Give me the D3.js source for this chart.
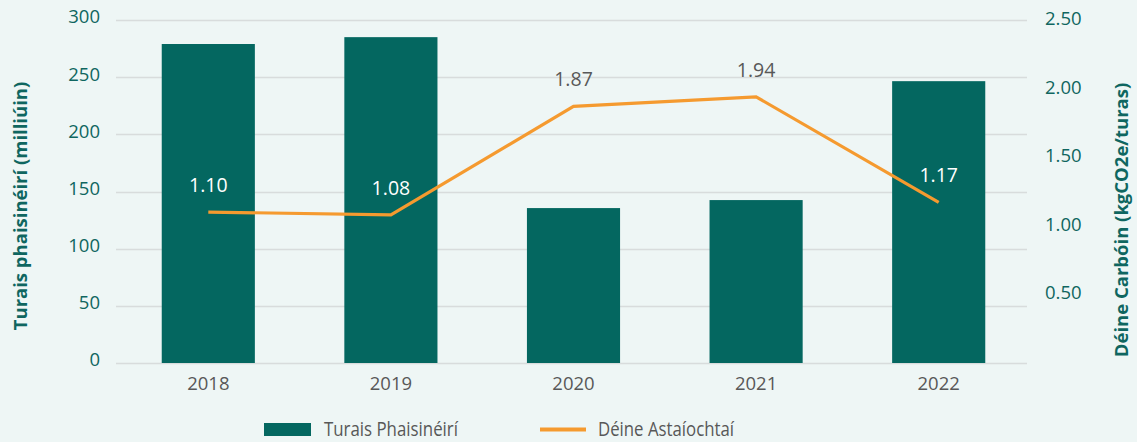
<!DOCTYPE html>
<html>
<head>
<meta charset="utf-8">
<script src="https://cdn.jsdelivr.net/npm/d3@7"></script>
<style>
  html, body { margin: 0; padding: 0; background: #eef6f5; }
  svg { display: block; font-family: "Open Sans", sans-serif; }
</style>
</head>
<body>
<svg id="chart" width="1137" height="442"></svg>
<script>
// Passenger journeys (millions) and carbon intensity (kgCO2e per journey)
const years = ["2018", "2019", "2020", "2021", "2022"];
const journeys = [279, 285, 135.5, 142.5, 246.5];
const intensity = [1.10, 1.08, 1.87, 1.94, 1.17];
const leftTicks = [0, 50, 100, 150, 200, 250, 300];
const rightTicks = [0.5, 1.0, 1.5, 2.0, 2.5];
const legendLabels = ["Turais Phaisinéirí", "Déine Astaíochtaí"];

const teal = "#046760";
const orange = "#f59a2f";
const grey = "#585858";
const axisText = "#0f6660";

const svg = d3.select("#chart");
const plotLeft = 117, plotRight = 1030, plotTop = 20, plotBottom = 363;

const x = d3.scaleBand().domain(years).range([plotLeft, plotRight]).paddingInner(0.49).paddingOuter(0.245);
const yL = d3.scaleLinear().domain([0, 300]).range([plotBottom, plotTop]);
const yR = d3.scaleLinear().domain([0, 2.5]).range([plotBottom, plotTop]);

// gridlines
svg.append("g")
  .selectAll("line")
  .data(leftTicks)
  .join("line")
  .attr("x1", 116).attr("x2", 1027)
  .attr("y1", d => Math.round(yL(d)) + 0.5).attr("y2", d => Math.round(yL(d)) + 0.5)
  .attr("stroke", "#d8dcdc").attr("stroke-width", 1.3);

// left axis
const axL = svg.append("g").attr("transform", `translate(${plotLeft - 17},-3)`)
  .call(d3.axisLeft(yL).tickValues(leftTicks).tickSize(0).tickPadding(0));
axL.select(".domain").remove();
axL.selectAll("text").attr("fill", axisText).attr("font-size", 18.5)
  .attr("font-family", "Open Sans");

// right axis
const axR = svg.append("g").attr("transform", `translate(1045,-1.5)`)
  .call(d3.axisRight(yR).tickValues(rightTicks).tickFormat(d3.format(".2f")).tickSize(0).tickPadding(0));
axR.select(".domain").remove();
axR.selectAll("text").attr("fill", axisText).attr("font-size", 18.5)
  .attr("font-family", "Open Sans");

// bottom axis labels
const axB = svg.append("g").attr("transform", `translate(0,${plotBottom})`)
  .call(d3.axisBottom(x).tickSize(0).tickPadding(14));
axB.select(".domain").remove();
axB.selectAll("text").attr("fill", grey).attr("font-size", 18.5)
  .attr("font-family", "Open Sans");

// bars
svg.append("g")
  .selectAll("rect")
  .data(years)
  .join("rect")
  .attr("x", d => x(d))
  .attr("width", x.bandwidth())
  .attr("y", (d, i) => yL(journeys[i]))
  .attr("height", (d, i) => plotBottom - yL(journeys[i]))
  .attr("fill", teal);

// line
const pts = years.map((d, i) => [x(d) + x.bandwidth() / 2, yR(intensity[i])]);
svg.append("path")
  .attr("d", d3.line()(pts))
  .attr("fill", "none")
  .attr("stroke", orange)
  .attr("stroke-width", 3.2)
  .attr("stroke-linejoin", "miter");

// value labels
svg.append("g")
  .selectAll("text")
  .data(years)
  .join("text")
  .attr("x", (d, i) => pts[i][0])
  .attr("y", (d, i) => pts[i][1] - 20)
  .attr("text-anchor", "middle")
  .attr("font-size", 19.5)
  .attr("fill", (d, i) => (yR(intensity[i]) - 20 > yL(journeys[i]) + 18) ? "#ffffff" : grey)
  .text((d, i) => intensity[i].toFixed(2));

// axis titles
svg.append("text")
  .attr("transform", "translate(27,206) rotate(-90)")
  .attr("text-anchor", "middle")
  .attr("font-size", 18.5).attr("font-weight", "bold")
  .attr("fill", axisText)
  .text("Turais phaisinéirí (milliúin)");

svg.append("text")
  .attr("transform", "translate(1128,220) rotate(-90)")
  .attr("text-anchor", "middle")
  .attr("font-size", 18.5).attr("font-weight", "bold")
  .attr("fill", axisText)
  .text("Déine Carbóin (kgCO2e/turas)");

// legend
const lg = svg.append("g");
lg.append("rect").attr("x", 264).attr("y", 423).attr("width", 47).attr("height", 13).attr("fill", teal);
lg.append("text").attr("x", 324).attr("y", 436).attr("font-size", 20)
  .attr("fill", grey)
  .attr("textLength", 134).attr("lengthAdjust", "spacingAndGlyphs")
  .text(legendLabels[0]);
lg.append("line").attr("x1", 540).attr("x2", 586).attr("y1", 429.5).attr("y2", 429.5)
  .attr("stroke", orange).attr("stroke-width", 4);
lg.append("text").attr("x", 598).attr("y", 436).attr("font-size", 20)
  .attr("fill", grey)
  .attr("textLength", 136).attr("lengthAdjust", "spacingAndGlyphs")
  .text(legendLabels[1]);
</script>
</body>
</html>
